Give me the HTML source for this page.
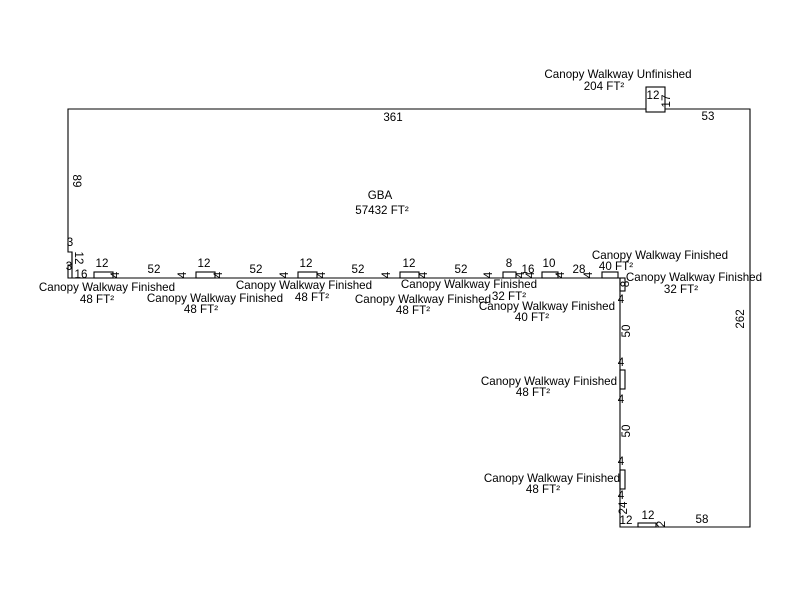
<!DOCTYPE html>
<html><head><style>body{margin:0;background:#fff}svg text{font-family:"Liberation Sans",sans-serif;font-size:11.6px;fill:#000}</style></head><body>
<svg width="800" height="600" xmlns="http://www.w3.org/2000/svg">
<g fill="none" stroke="#000" stroke-width="1.1">
<path d="M68,252 V109 H750 V527 H620 V278 H68 V265 H72 V252 Z" fill="none"/>
<path d="M68,252 H72 V278"/>
<rect x="94" y="272" width="19" height="6"/>
<rect x="196" y="272" width="19" height="6"/>
<rect x="298" y="272" width="19" height="6"/>
<rect x="400" y="272" width="19" height="6"/>
<rect x="503" y="272" width="13" height="6"/>
<rect x="542" y="272" width="16" height="6"/>
<rect x="602" y="272" width="16" height="6"/>
<rect x="620" y="278" width="5" height="13"/>
<rect x="620" y="370" width="5" height="19"/>
<rect x="620" y="470" width="5" height="19"/>
<rect x="638" y="523" width="18" height="4"/>
<rect x="646" y="87" width="19" height="25" fill="#fff"/>
</g>
<g text-anchor="middle">
<text x="393" y="121">361</text>
<text x="708" y="120">53</text>
<text x="380" y="199">GBA</text>
<text x="382" y="214">57432 FT²</text>
<text x="618" y="78">Canopy Walkway Unfinished</text>
<text x="604" y="90">204 FT²</text>
<text x="653" y="99">12</text>
<text x="102" y="267">12</text><text x="204" y="267">12</text><text x="306" y="267">12</text><text x="409" y="267">12</text>
<text x="509" y="267">8</text><text x="549" y="267">10</text><text x="579" y="273">28</text>
<text x="154" y="273">52</text><text x="256" y="273">52</text><text x="358" y="273">52</text><text x="461" y="273">52</text>
<text x="528" y="273">16</text>
<text x="81" y="278">16</text>
<text x="70" y="246">3</text><text x="69" y="270">3</text>
<text x="107" y="291">Canopy Walkway Finished</text><text x="97" y="303">48 FT²</text>
<text x="215" y="302">Canopy Walkway Finished</text><text x="201" y="313">48 FT²</text>
<text x="304" y="289">Canopy Walkway Finished</text><text x="312" y="301">48 FT²</text>
<text x="423" y="303">Canopy Walkway Finished</text><text x="413" y="314">48 FT²</text>
<text x="469" y="288">Canopy Walkway Finished</text><text x="509" y="300">32 FT²</text>
<text x="547" y="310">Canopy Walkway Finished</text><text x="532" y="321">40 FT²</text>
<text x="660" y="259">Canopy Walkway Finished</text><text x="616" y="270">40 FT²</text>
<text x="694" y="281">Canopy Walkway Finished</text><text x="681" y="293">32 FT²</text>
<text x="549" y="385">Canopy Walkway Finished</text><text x="533" y="396">48 FT²</text>
<text x="552" y="482">Canopy Walkway Finished</text><text x="543" y="493">48 FT²</text>
<text x="621" y="303">4</text><text x="621" y="366">4</text><text x="621" y="403">4</text>
<text x="621" y="465">4</text><text x="621" y="499">4</text>
<text x="626" y="524">12</text>
<text x="648" y="519">12</text><text x="702" y="523">58</text>
</g>
<g text-anchor="middle">
<text transform="translate(73,181) rotate(90)">89</text>
<text transform="translate(75,258) rotate(90)">12</text>
<text transform="translate(670,101) rotate(-90)">17</text>
<text transform="translate(744,319) rotate(-90)">262</text>
<text transform="translate(630,331) rotate(-90)">50</text>
<text transform="translate(630,431) rotate(-90)">50</text>
<text transform="translate(627,508) rotate(-90)">24</text>
<text transform="translate(629,284) rotate(-90)">8</text>
<text transform="translate(119,275) rotate(-90)">4</text>
<text transform="translate(186,275) rotate(-90)">4</text>
<text transform="translate(222,275) rotate(-90)">4</text>
<text transform="translate(288,275) rotate(-90)">4</text>
<text transform="translate(325,275) rotate(-90)">4</text>
<text transform="translate(390,275) rotate(-90)">4</text>
<text transform="translate(427,275) rotate(-90)">4</text>
<text transform="translate(492,275) rotate(-90)">4</text>
<text transform="translate(524,275) rotate(-90)">4</text>
<text transform="translate(534,275) rotate(-90)">4</text>
<text transform="translate(564,275) rotate(-90)">4</text>
<text transform="translate(592,275) rotate(-90)">4</text>
<text transform="translate(665,524) rotate(-90)">2</text>
</g>
</svg>
</body></html>
